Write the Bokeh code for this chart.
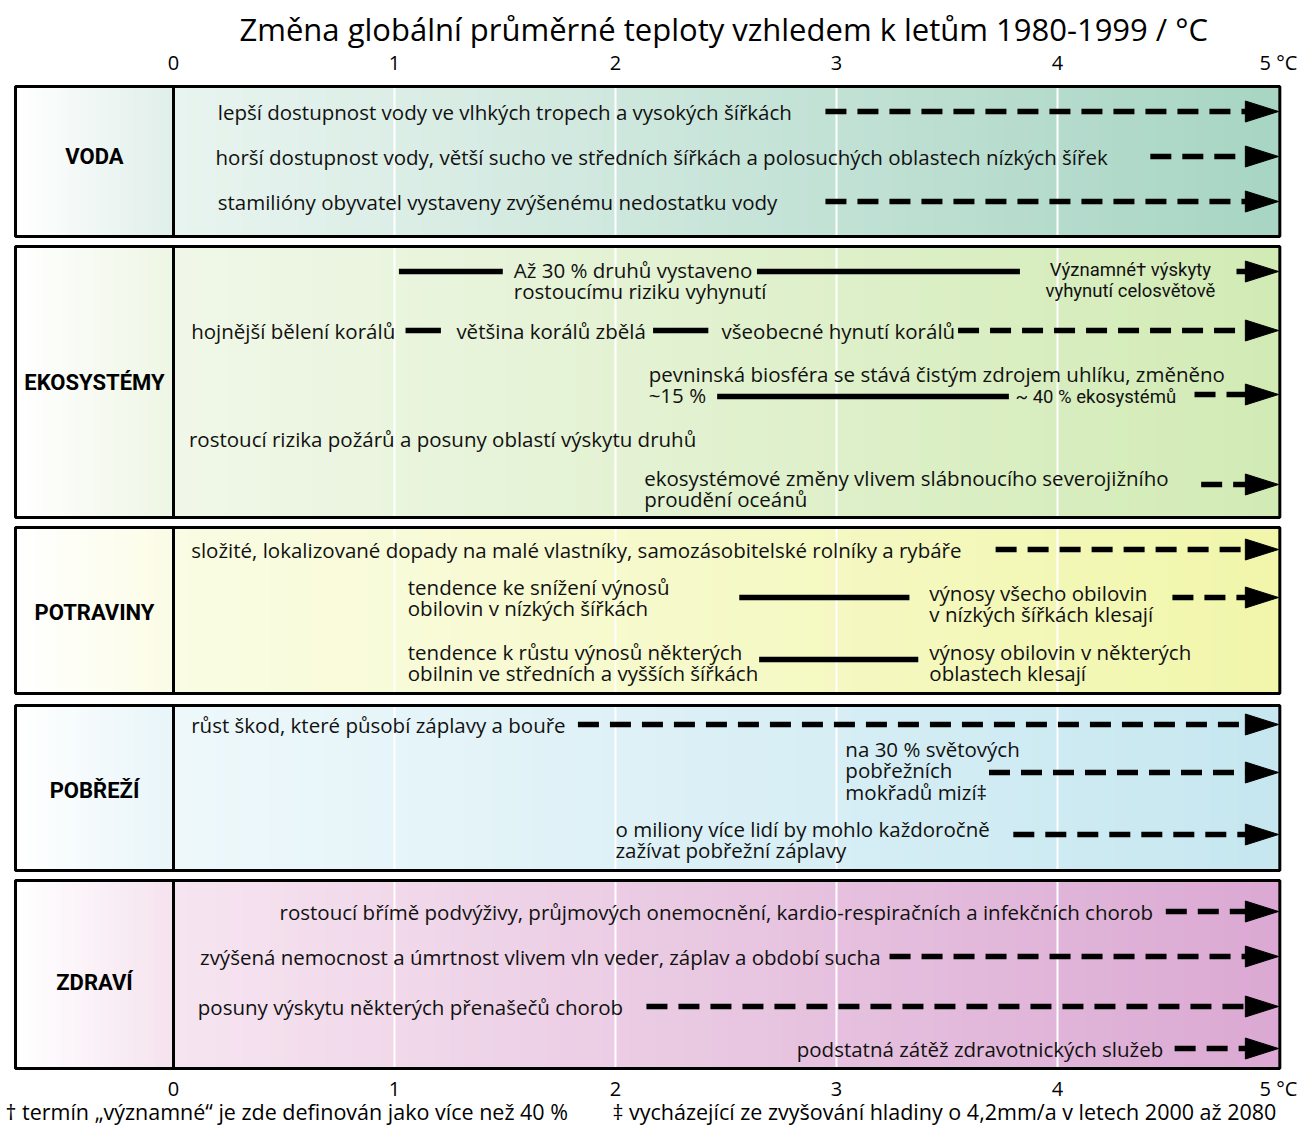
import numpy as np
from bokeh.plotting import figure
from bokeh.models import Range1d
from bokeh.core.properties import value
from bokeh.embed import file_html
from bokeh.resources import INLINE

# ---------------- DATA ----------------
title_text = "Změna globální průměrné teploty vzhledem k letům 1980-1999 / °C"
tick_values = [0, 1, 2, 3, 4, 5]
tick_labels = ["0", "1", "2", "3", "4", "5 °C"]
sectors = ["VODA", "EKOSYSTÉMY", "POTRAVINY", "POBŘEŽÍ", "ZDRAVÍ"]
footnotes = ["† termín „významné“ je zde definován jako více než 40 %",
             "‡ vycházející ze zvyšování hladiny o 4,2mm/a v letech 2000 až 2080"]

# VODA
voda_texts = ["lepší dostupnost vody ve vlhkých tropech a vysokých šířkách",
              "horší dostupnost vody, větší sucho ve středních šířkách a polosuchých oblastech nízkých šířek",
              "stamilióny obyvatel vystaveny zvýšenému nedostatku vody"]
voda_text_x = [0.20, 0.19, 0.20]
voda_line_x0 = [2.95, 4.42, 2.95]
voda_line_x1 = [5.0, 5.0, 5.0]
voda_line_kind = ["dashed", "dashed", "dashed"]
voda_line_arrow = [True, True, True]

# EKOSYSTÉMY
eko_texts = ["Až 30 % druhů vystaveno\nrostoucímu riziku vyhynutí",
             "Významné† výskyty\nvyhynutí celosvětově",
             "hojnější bělení korálů",
             "většina korálů zbělá",
             "všeobecné hynutí korálů",
             "pevninská biosféra se stává čistým zdrojem uhlíku, změněno\n~15 %",
             "~ 40 % ekosystémů",
             "rostoucí rizika požárů a posuny oblastí výskytu druhů",
             "ekosystémové změny vlivem slábnoucího severojižního\nproudění oceánů"]
eko_text_x = [1.54, 4.33, 0.08, 1.28, 2.48, 2.15, 3.81, 0.07, 2.13]
eko_line_x0 = [1.02, 2.64, 4.81, 1.05, 2.17, 3.55, 2.46, 4.62, 4.65]
eko_line_x1 = [1.49, 3.83, 5.0, 1.21, 2.42, 5.0, 3.78, 5.0, 5.0]
eko_line_kind = ["solid", "solid", "dashed", "solid", "solid", "dashed", "solid", "dashed", "dashed"]
eko_line_arrow = [False, False, True, False, False, True, False, True, True]

# POTRAVINY
pot_texts = ["složité, lokalizované dopady na malé vlastníky, samozásobitelské rolníky a rybáře",
             "tendence ke snížení výnosů\nobilovin v nízkých šířkách",
             "výnosy všecho obilovin\nv nízkých šířkách klesají",
             "tendence k růstu výnosů některých\nobilnin ve středních a vyšších šířkách",
             "výnosy obilovin v některých\noblastech klesají"]
pot_text_x = [0.08, 1.06, 3.42, 1.06, 3.42]
pot_line_x0 = [3.72, 2.56, 4.52, 2.65]
pot_line_x1 = [5.0, 3.33, 5.0, 3.37]
pot_line_kind = ["dashed", "solid", "dashed", "solid"]
pot_line_arrow = [True, False, True, False]

# POBŘEŽÍ
pob_texts = ["růst škod, které působí záplavy a bouře",
             "na 30 % světových\npobřežních\nmokřadů mizí‡",
             "o miliony více lidí by mohlo každoročně\nzažívat pobřežní záplavy"]
pob_text_x = [0.08, 3.04, 2.00]
pob_line_x0 = [1.83, 3.69, 3.80]
pob_line_x1 = [5.0, 5.0, 5.0]
pob_line_kind = ["dashed", "dashed", "dashed"]
pob_line_arrow = [True, True, True]

# ZDRAVÍ
zdr_texts = ["rostoucí břímě podvýživy, průjmových onemocnění, kardio-respiračních a infekčních chorob",
             "zvýšená nemocnost a úmrtnost vlivem vln veder, záplav a období sucha",
             "posuny výskytu některých přenašečů chorob",
             "podstatná zátěž zdravotnických služeb"]
zdr_text_x = [0.48, 0.12, 0.11, 2.82]
zdr_line_x0 = [4.49, 3.24, 2.14, 4.53]
zdr_line_x1 = [5.0, 5.0, 5.0, 5.0]
zdr_line_kind = ["dashed", "dashed", "dashed", "dashed"]
zdr_line_arrow = [True, True, True, True]

# ---------------- LAYOUT / STYLE ----------------
REG_FONT = "Open Sans"
COND_FONT = "Roboto"
FS = "20.5px"
LINE_H = 21.5

box_top = [86, 246, 527, 705, 880]
box_bottom = [236, 517, 693, 870, 1068]
label_y = [156, 382, 612, 790, 982]
col_left = -0.715
box_right = 5.006

grad_left = ["#e8f4ef", "#f0f7e8", "#fafce3", "#eef8fb", "#f6e4f0"]
grad_right = ["#a8d5c4", "#d2ebb5", "#f1f6ab", "#c6e7f0", "#dba9d3"]
col_right = ["#e0efea", "#eef6e5", "#fbfce6", "#e8f5f9", "#f5e3ef"]

voda_layout = dict(text_y=[111, 156, 201], line_y=[111, 156, 201],
                   style=["reg", "reg", "reg"])
eko_layout = dict(text_y=[269, 269, 330, 330, 330, 373, 396, 438, 477],
                  line_y=[271, 271, 271, 330, 330, 330, 396, 394, 484],
                  style=["reg", "condc", "reg", "reg", "reg", "reg", "cond", "reg", "reg"])
pot_layout = dict(text_y=[549, 586, 592, 651, 651], line_y=[549, 597, 597, 659],
                  style=["reg"] * 5)
pob_layout = dict(text_y=[724, 748, 828], line_y=[724, 772, 834], style=["reg"] * 3)
zdr_layout = dict(text_y=[911, 956, 1006, 1048], line_y=[911, 956, 1006, 1048],
                  style=["reg"] * 4)

sector_items = [
    (voda_texts, voda_text_x, voda_line_x0, voda_line_x1, voda_line_kind, voda_line_arrow, voda_layout),
    (eko_texts, eko_text_x, eko_line_x0, eko_line_x1, eko_line_kind, eko_line_arrow, eko_layout),
    (pot_texts, pot_text_x, pot_line_x0, pot_line_x1, pot_line_kind, pot_line_arrow, pot_layout),
    (pob_texts, pob_text_x, pob_line_x0, pob_line_x1, pob_line_kind, pob_line_arrow, pob_layout),
    (zdr_texts, zdr_text_x, zdr_line_x0, zdr_line_x1, zdr_line_kind, zdr_line_arrow, zdr_layout),
]

HEAD_LEN = 0.15    # in °C units (~33 px)
HEAD_HALF = 10.5   # px (y in px units)


def hex2rgb(h):
    h = h.lstrip("#")
    return np.array([int(h[i:i + 2], 16) for i in (0, 2, 4)], dtype=float)


def mix(c1, c2, t):
    c = hex2rgb(c1) * (1 - t) + hex2rgb(c2) * t
    return "#%02x%02x%02x" % tuple(int(round(v)) for v in c)


p = figure(width=1312, height=1129,
           x_range=Range1d(-173 / 221, 5 + 34 / 221), y_range=Range1d(1129, 0),
           output_backend="svg", toolbar_location=None, min_border=0)
p.axis.visible = False
p.grid.visible = False
p.outline_line_color = None
p.background_fill_color = "white"
p.border_fill_color = "white"

# gradient backgrounds
N = 80
NC = 24
gl, gr, gt, gb, gc = [], [], [], [], []
for i in range(len(sectors)):
    edges = np.linspace(0, box_right, N + 1)
    for k in range(N):
        gl.append(edges[k]); gr.append(edges[k + 1] + 0.004)
        gt.append(box_top[i]); gb.append(box_bottom[i])
        gc.append(mix(grad_left[i], grad_right[i], k / (N - 1)))
    cedges = np.linspace(col_left, 0, NC + 1)
    for k in range(NC):
        gl.append(cedges[k]); gr.append(cedges[k + 1] + 0.004)
        gt.append(box_top[i]); gb.append(box_bottom[i])
        gc.append(mix("#ffffff", col_right[i], k / (NC - 1)))
p.quad(left=gl, right=gr, top=gt, bottom=gb, fill_color=gc, line_color=None)

# white temperature guide lines
wx, wy0, wy1 = [], [], []
for i in range(len(sectors)):
    for t in tick_values[1:-1]:
        wx.append(t); wy0.append(box_top[i]); wy1.append(box_bottom[i])
p.segment(x0=wx, x1=wx, y0=wy0, y1=wy1, line_color="white", line_width=2)

# borders
p.quad(left=[col_left] * 5, right=[box_right] * 5, top=box_top, bottom=box_bottom,
       fill_alpha=0, line_color="black", line_width=3)
p.segment(x0=[0] * 5, x1=[0] * 5, y0=box_top, y1=box_bottom, line_color="black", line_width=3)

# sector labels
p.text(x=[col_left / 2] * 5, y=label_y, text=sectors, text_align="center",
       text_baseline="middle", text_font=value(COND_FONT), text_font_style="bold",
       text_font_size="22px", text_color="black")

# statements and impact lines
txt = {"reg": dict(x=[], y=[], t=[]), "cond": dict(x=[], y=[], t=[]), "condc": dict(x=[], y=[], t=[])}
sol = dict(x0=[], x1=[], y=[])
das = dict(x0=[], x1=[], y=[])
hx, hy = [], []
for texts, tx, lx0, lx1, kind, arrow, lay in sector_items:
    for s, x, y, st in zip(texts, tx, lay["text_y"], lay["style"]):
        for j, line in enumerate(s.split("\n")):
            txt[st]["x"].append(x); txt[st]["y"].append(y + j * LINE_H); txt[st]["t"].append(line)
    for x0, x1, k, a, y in zip(lx0, lx1, kind, arrow, lay["line_y"]):
        end = x1 - HEAD_LEN + 0.01 if a else x1
        d = sol if k == "solid" else das
        d["x0"].append(x0); d["x1"].append(end); d["y"].append(y)
        if a:
            hx.append([x1 - HEAD_LEN, x1, x1 - HEAD_LEN])
            hy.append([y - HEAD_HALF, y, y + HEAD_HALF])

p.segment(x0=sol["x0"], x1=sol["x1"], y0=sol["y"], y1=sol["y"], line_color="black", line_width=5.5)
p.segment(x0=das["x0"], x1=das["x1"], y0=das["y"], y1=das["y"], line_color="black",
          line_width=5.5, line_dash="21 11")
p.patches(xs=hx, ys=hy, fill_color="black", line_color="black", line_width=1)

p.text(x=txt["reg"]["x"], y=txt["reg"]["y"], text=txt["reg"]["t"], text_align="left",
       text_baseline="middle", text_font=value(REG_FONT), text_font_size=FS, text_color="#111111")
p.text(x=txt["cond"]["x"], y=txt["cond"]["y"], text=txt["cond"]["t"], text_align="left",
       text_baseline="middle", text_font=value(COND_FONT), text_font_size="18.5px", text_color="#111111")
p.text(x=txt["condc"]["x"], y=txt["condc"]["y"], text=txt["condc"]["t"], text_align="center",
       text_baseline="middle", text_font=value(COND_FONT), text_font_size="18.5px", text_color="#111111")

# axis tick labels top & bottom
for ty in (62, 1088):
    p.text(x=tick_values, y=[ty] * len(tick_values), text=tick_labels, text_align="center",
           text_baseline="middle", text_font=value(REG_FONT), text_font_size="20px", text_color="black")

# title
p.text(x=[2.49], y=[28], text=[title_text], text_align="center", text_baseline="middle",
       text_font=value(REG_FONT), text_font_size="31px", text_color="black")

# footnotes
p.text(x=[(5 - 173) / 221, (612 - 173) / 221], y=[1111, 1111], text=footnotes, text_align="left",
       text_baseline="middle", text_font=value(REG_FONT), text_font_size="21.5px", text_color="black")

open("out.html", "w").write(file_html(p, INLINE))
